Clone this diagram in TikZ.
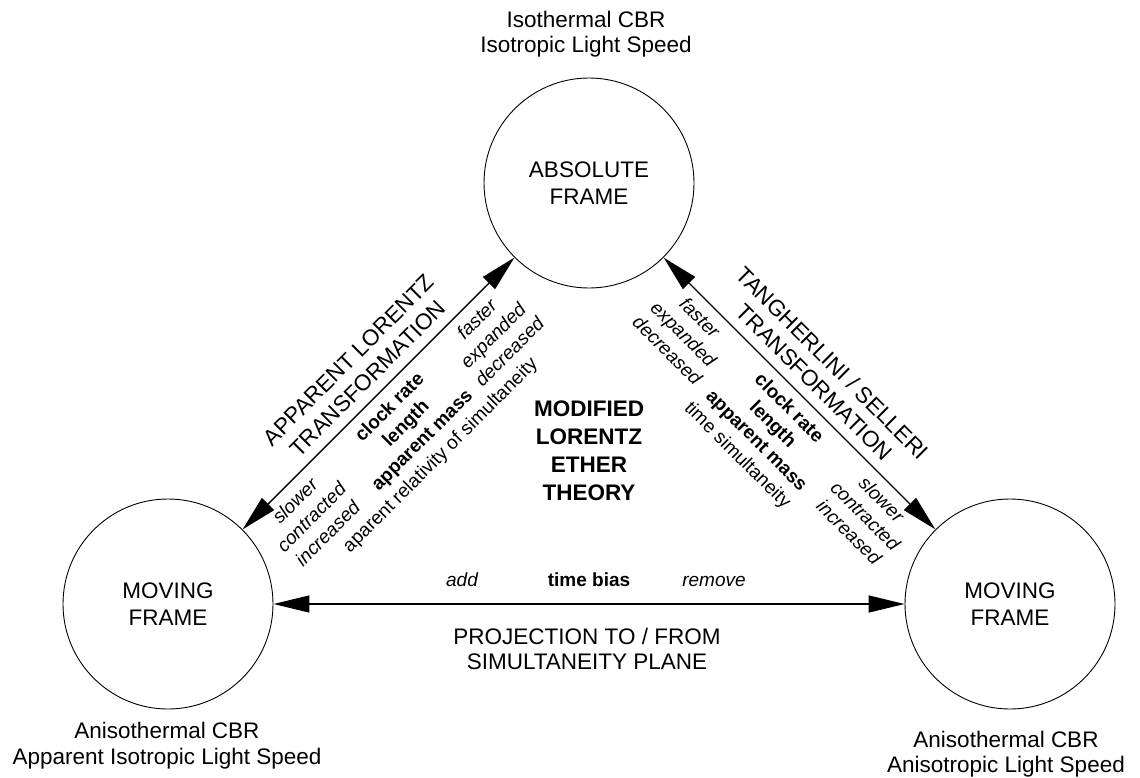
\documentclass[tikz,border=0pt]{standalone}
\usepackage{fontspec}
\setmainfont{Liberation Sans}
\usetikzlibrary{arrows.meta}
\newcommand\fbig{\fontsize{22.5}{27}\selectfont}
\newcommand\fsmall{\fontsize{19}{23.5}\selectfont}
\begin{document}
\begin{tikzpicture}[x=1pt,y=-1pt,
  frame/.style={circle, draw, line width=0.9pt, minimum size=210pt, inner sep=0pt, align=center, font=\fbig},
  conn/.style={line width=1.4pt, <->, >={Triangle[length=36pt,width=17pt]}},
  big/.style={font=\fbig, anchor=base, inner sep=0pt},
  rg/.style={font=\fsmall, anchor=base, inner sep=0pt},
  it/.style={font=\fsmall\itshape, anchor=base, inner sep=0pt},
  bf/.style={font=\fsmall\bfseries, anchor=base, inner sep=0pt},
  title/.style={font=\fbig\bfseries, anchor=base, inner sep=0pt}]
\useasboundingbox (0,0) rectangle (1140,777);

% frames
\node[frame] (abs) at (589,183) {ABSOLUTE\\FRAME};
\node[frame] (movL) at (168,604) {MOVING\\FRAME};
\node[frame] (movR) at (1010,604) {MOVING\\FRAME};

% connectors
\draw[conn] (movL) -- (abs);
\draw[conn] (abs) -- (movR);
\draw[conn] (movL) -- (movR);

% captions
\node[big] (absA) at (586,27) {Isothermal CBR};
\node[big] (absB) at (586,52) {Isotropic Light Speed};
\node[big] (movLA) at (167,738) {Anisothermal CBR};
\node[big] (movLB) at (167,764) {Apparent Isotropic Light Speed};
\node[big] (movRA) at (1006,747.5) {Anisothermal CBR};
\node[big] (movRB) at (1006,772) {Anisotropic Light Speed};

% centre title
\node[title] (mA) at (589,416.7) {MODIFIED};
\node[title] (mB) at (589,444.3) {LORENTZ};
\node[title] (mC) at (589,472.2) {ETHER};
\node[title] (mD) at (589,500) {THEORY};

% horizontal arrow labels
\node[it] (hA) at (462,586) {add};
\node[bf] (hB) at (589,586) {time bias};
\node[it] (hC) at (714,586) {remove};
\node[big] (hD) at (587,644.3) {PROJECTION TO / FROM};
\node[big] (hE) at (587,669.3) {SIMULTANEITY PLANE};

% left diagonal labels
\begin{scope}[shift={(378.5,393.5)}, rotate=45, transform shape]
  \node[big] (lA) at (2.5pt,37pt) {APPARENT LORENTZ};
  \node[big] (lB) at (3pt,10.5pt) {TRANSFORMATION};
  \node[it] (l1a) at (-135pt,-23.5pt) {slower};
  \node[it] (l1b) at (-135pt,-46.5pt) {contracted};
  \node[it] (l1c) at (-135pt,-69.5pt) {increased};
  \node[bf] (l2a) at (-2pt,-23.5pt) {clock rate};
  \node[bf] (l2b) at (-2pt,-46.5pt) {length};
  \node[bf] (l2c) at (-2pt,-69.5pt) {apparent mass};
  \node[it] (l3a) at (122pt,-23.5pt) {faster};
  \node[it] (l3b) at (122pt,-46.5pt) {expanded};
  \node[it] (l3c) at (122pt,-69.5pt) {decreased};
  \node[rg] (l4) at (0pt,-93pt) {aparent relativity of simultaneity};
\end{scope}

% right diagonal labels
\begin{scope}[shift={(799.5,393.5)}, rotate=-45, transform shape]
  \node[big] (rA) at (2pt,37pt) {TANGHERLINI / SELLERI};
  \node[big] (rB) at (2.8pt,10.5pt) {TRANSFORMATION};
  \node[it] (r1a) at (-124pt,-23.5pt) {faster};
  \node[it] (r1b) at (-124pt,-46.5pt) {expanded};
  \node[it] (r1c) at (-124pt,-69.5pt) {decreased};
  \node[bf] (r2a) at (3pt,-23.5pt) {clock rate};
  \node[bf] (r2b) at (3pt,-46.5pt) {length};
  \node[bf] (r2c) at (3pt,-69.5pt) {apparent mass};
  \node[it] (r3a) at (133pt,-23.5pt) {slower};
  \node[it] (r3b) at (133pt,-46.5pt) {contracted};
  \node[it] (r3c) at (133pt,-69.5pt) {increased};
  \node[rg] (r4) at (0pt,-93pt) {time simultaneity};
\end{scope}
\end{tikzpicture}
\end{document}
